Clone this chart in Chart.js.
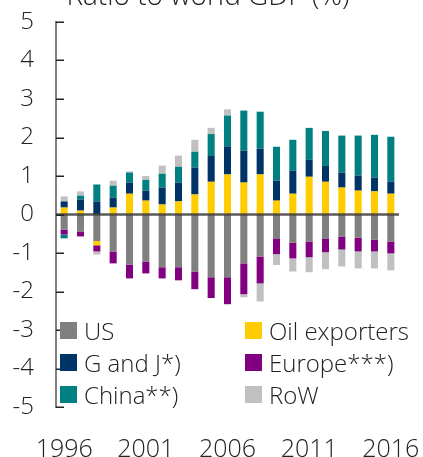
<!DOCTYPE html>
<html>
<head>
<meta charset="utf-8">
<script src="https://cdn.jsdelivr.net/npm/chart.js@4"></script>
<style>
  body { margin: 0; background: #fff; overflow: hidden; }
  #wrap { position: relative; width: 423px; height: 457px; }
  #legend {
    position: absolute; left: 60px; top: 315px;
    display: grid; grid-template-columns: 185px auto; grid-auto-rows: 31.7px;
    font-family: "Open Sans", sans-serif; font-weight: 300; font-size: 24px; color: #222;
  }
  .item { display: flex; align-items: center; white-space: nowrap; }
  .box { width: 17px; height: 17px; margin-right: 7px; flex: none; }
</style>
</head>
<body>
<div id="wrap">
  <canvas id="flowChart"></canvas>
  <div id="legend"></div>
</div>
<script>
const years = ["1996", "1997", "1998", "1999", "2000", "2001", "2002", "2003", "2004", "2005", "2006",
  "2007", "2008", "2009", "2010", "2011", "2012", "2013", "2014", "2015", "2016"];

const us = [-0.39, -0.44, -0.69, -0.96, -1.30, -1.22, -1.37, -1.37, -1.48, -1.63, -1.63,
  -1.27, -1.09, -0.62, -0.73, -0.70, -0.62, -0.57, -0.60, -0.65, -0.70];
const oil = [0.18, 0.10, -0.11, 0.18, 0.54, 0.36, 0.26, 0.34, 0.52, 0.85, 1.04,
  0.83, 1.04, 0.36, 0.54, 0.98, 0.85, 0.70, 0.62, 0.60, 0.54];
const gAndJ = [0.16, 0.29, 0.34, 0.26, 0.29, 0.26, 0.44, 0.49, 0.70, 0.67, 0.73,
  0.83, 0.67, 0.52, 0.60, 0.44, 0.41, 0.39, 0.39, 0.36, 0.31];
const europe = [-0.13, -0.13, -0.16, -0.31, -0.36, -0.31, -0.29, -0.34, -0.46, -0.54, -0.70,
  -0.80, -0.70, -0.41, -0.41, -0.41, -0.36, -0.34, -0.36, -0.31, -0.31];
const china = [-0.10, 0.10, 0.44, 0.31, 0.26, 0.28, 0.36, 0.41, 0.41, 0.57, 0.80,
  1.04, 0.96, 0.88, 0.80, 0.83, 0.91, 0.96, 1.04, 1.11, 1.17];
const row = [0.13, 0.11, -0.08, 0.13, 0.03, 0.10, 0.21, 0.29, 0.31, 0.16, 0.16,
  -0.08, -0.47, -0.28, -0.34, -0.39, -0.44, -0.44, -0.44, -0.44, -0.44];

const yTicks = [5, 4, 3, 2, 1, 0, -1, -2, -3, -4, -5];
const titleText = "Ratio to world GDP (%)";

const fontFamily = "'Open Sans', sans-serif";

// zero line on top of the bars, ticks pointing into the plot, cut-off title
const extras = {
  id: "extras",
  afterDatasetsDraw(chart) {
    const c = chart.ctx;
    const y = chart.scales.y;
    const area = chart.chartArea;
    c.save();
    c.strokeStyle = "rgba(60,60,60,0.85)";
    c.lineWidth = 2.5;
    const y0 = y.getPixelForValue(0);
    c.beginPath();
    c.moveTo(area.left, y0);
    c.lineTo(area.right, y0);
    c.stroke();

    c.strokeStyle = "#222";
    c.lineWidth = 1.5;
    yTicks.forEach(v => {
      const py = Math.round(y.getPixelForValue(v)) + 0.25;
      c.beginPath();
      c.moveTo(area.left, py);
      c.lineTo(area.left + 8, py);
      c.stroke();
    });

    c.fillStyle = "#222";
    c.font = "300 28px " + fontFamily;
    c.textAlign = "center";
    c.textBaseline = "alphabetic";
    c.fillText(titleText, 208, 5);
    c.restore();
  },
};

const ctx = document.getElementById("flowChart").getContext("2d");
const chart = new Chart(ctx, {
  type: "bar",
  data: {
    labels: years,
    datasets: [
      { label: "US", data: us, backgroundColor: "#808080" },
      { label: "Oil exporters", data: oil, backgroundColor: "#FFCC00" },
      { label: "G and J*)", data: gAndJ, backgroundColor: "#003366" },
      { label: "Europe***)", data: europe, backgroundColor: "#800080" },
      { label: "China**)", data: china, backgroundColor: "#008080" },
      { label: "RoW", data: row, backgroundColor: "#C0C0C0" },
    ],
  },
  options: {
    responsive: true,
    maintainAspectRatio: false,
    animation: false,
    datasets: {
      bar: { barPercentage: 0.9, categoryPercentage: 0.48 },
    },
    layout: { padding: { top: 22, right: 24, left: 0, bottom: 0 } },
    plugins: {
      legend: { display: false },
      tooltip: { enabled: false },
    },
    scales: {
      x: {
        stacked: true,
        grid: { display: false, drawTicks: false },
        border: { display: false },
        afterFit: s => { s.height = 50; s.paddingLeft = 0; s.paddingRight = 0; },
        ticks: {
          autoSkip: false,
          maxRotation: 0,
          padding: 28,
          color: "#222",
          font: { family: fontFamily, size: 25, weight: "300" },
          callback: function (val, i) {
            return i % 5 === 0 ? this.getLabelForValue(val) : "";
          },
        },
      },
      y: {
        stacked: true,
        min: -5,
        max: 5,
        afterFit: s => { s.width = 56; s.paddingTop = 0; s.paddingBottom = 0; },
        afterBuildTicks: s => { s.ticks = yTicks.map(v => ({ value: v })); },
        grid: { display: false, drawTicks: false },
        border: { display: true, color: "#808080", width: 2 },
        ticks: {
          padding: 22,
          color: "#222",
          font: { family: fontFamily, size: 24, weight: "300" },
        },
      },
    },
  },
  plugins: [extras],
});

// two-column legend inside the plot
const legendEl = document.getElementById("legend");
chart.data.datasets.forEach(ds => {
  const item = document.createElement("div");
  item.className = "item";
  const box = document.createElement("span");
  box.className = "box";
  box.style.background = ds.backgroundColor;
  const txt = document.createElement("span");
  txt.textContent = ds.label;
  item.appendChild(box);
  item.appendChild(txt);
  legendEl.appendChild(item);
});
</script>
</body>
</html>
